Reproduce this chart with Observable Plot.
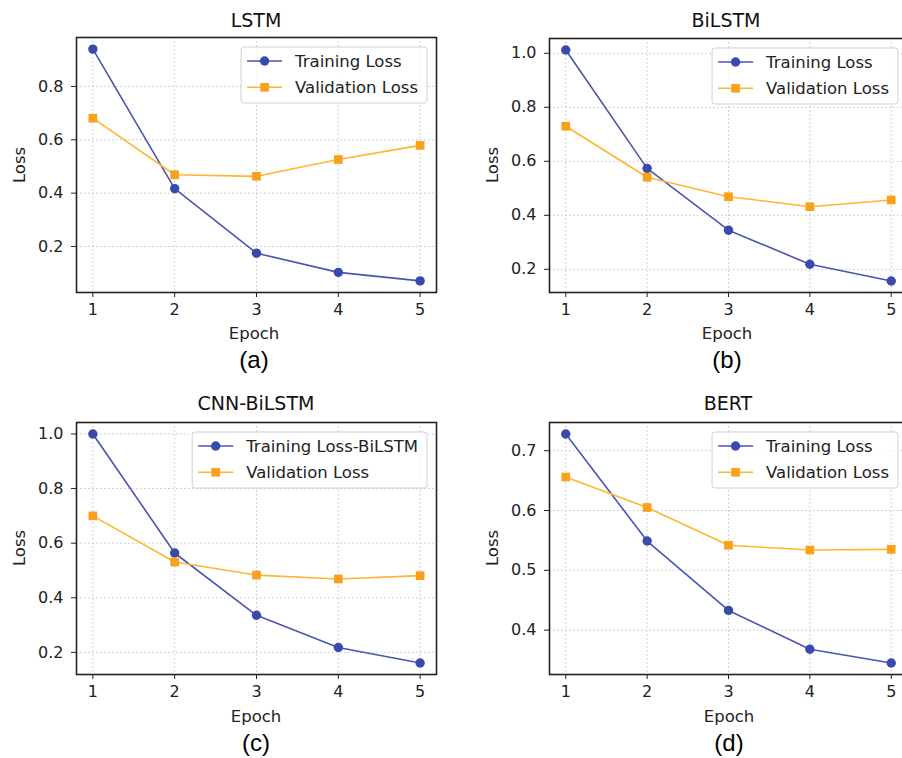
<!DOCTYPE html>
<html><head><meta charset="utf-8">
<script src="https://cdn.jsdelivr.net/npm/d3@7"></script>
<script src="https://cdn.jsdelivr.net/npm/@observablehq/plot@0.6"></script>
<style>
html,body{margin:0;padding:0;background:#fff;width:902px;height:758px;overflow:hidden;position:relative;}
.panel{position:absolute;overflow:visible;}
.panel svg{max-width:none !important;display:block;}
.lbl{position:absolute;font-family:"DejaVu Sans";white-space:nowrap;line-height:1;}
.title{font-size:19px;color:#111;transform:translate(-50%,-50%);}
.axl{font-size:16.5px;color:#222;transform:translate(-50%,-50%);}
.axly{font-size:16.5px;color:#222;transform:translate(-50%,-50%) rotate(-90deg);}
.cap{position:absolute;font-family:"Liberation Sans",Arial,sans-serif;font-size:24px;line-height:1;color:#000;transform:translate(-50%,-50%);white-space:nowrap;}
</style></head><body>
<script>
// ---- data ----
const epochs = [1, 2, 3, 4, 5];
const lstmTrain   = [0.940, 0.417, 0.175, 0.103, 0.071];
const lstmVal     = [0.681, 0.469, 0.463, 0.526, 0.579];
const bilstmTrain = [1.012, 0.574, 0.345, 0.219, 0.157];
const bilstmVal   = [0.730, 0.541, 0.469, 0.432, 0.457];
const cnnTrain    = [1.000, 0.564, 0.336, 0.218, 0.161];
const cnnVal      = [0.700, 0.531, 0.483, 0.469, 0.481];
const bertTrain   = [0.728, 0.549, 0.433, 0.368, 0.345];
const bertVal     = [0.656, 0.605, 0.542, 0.534, 0.535];
const titles   = ["LSTM", "BiLSTM", "CNN-BiLSTM", "BERT"];
const captions = ["(a)", "(b)", "(c)", "(d)"];
const trainNames = ["Training Loss", "Training Loss", "Training Loss-BiLSTM", "Training Loss"];
const valName = "Validation Loss";
const xLabel = "Epoch", yLabel = "Loss";
const yTickSets = [[0.2, 0.4, 0.6, 0.8], [0.2, 0.4, 0.6, 0.8, 1.0], [0.2, 0.4, 0.6, 0.8, 1.0], [0.4, 0.5, 0.6, 0.7]];
const trains = [lstmTrain, bilstmTrain, cnnTrain, bertTrain];
const vals = [lstmVal, bilstmVal, cnnVal, bertVal];

// ---- layout ----
const layout = [
  {fx: 76,  fy: 37,  fw: 360, fh: 255, tx: 256, ty: 20,  cx: 254, cy: 360, yx: 20,  ex: 254, ey: 334},
  {fx: 549, fy: 38,  fw: 358, fh: 254, tx: 726, ty: 20,  cx: 727, cy: 360, yx: 493, ex: 727, ey: 334},
  {fx: 76,  fy: 422, fw: 360, fh: 252, tx: 256, ty: 403, cx: 256, cy: 743, yx: 20,  ex: 256, ey: 717},
  {fx: 549, fy: 422, fw: 358, fh: 252, tx: 728, ty: 403, cx: 729, cy: 743, yx: 493, ex: 729, ey: 717}
];
const C = {trainLine: "#4855b3", trainDot: "#3a4aac", valLine: "#ffb52e", valDot: "#f9a11b", grid: "#bdbdbd", frame: "#222"};
const ml = 76, mr = 12, mt = 10, mb = 56;

function addLabel(cls, text, x, y, base) {
  const d = document.createElement("div");
  d.className = (base || "lbl") + " " + cls; d.textContent = text;
  d.style.left = x + "px"; d.style.top = y + "px";
  document.body.appendChild(d);
}

layout.forEach((L, k) => {
  const train = trains[k], val = vals[k];
  const all = train.concat(val);
  const lo = d3.min(all), hi = d3.max(all), pad = (hi - lo) * 0.05;
  const W = L.fw + ml + mr, H = L.fh + mt + mb;
  const el = Plot.plot({
    width: W, height: H,
    marginLeft: ml, marginRight: mr, marginTop: mt, marginBottom: mb,
    style: {fontFamily: "DejaVu Sans", fontSize: "16px", color: "#222", background: "transparent", overflow: "visible", maxWidth: "none"},
    x: {domain: [0.8, 5.2]},
    y: {domain: [lo - pad, hi + pad]},
    marks: [
      Plot.gridX(epochs, {stroke: C.grid, strokeOpacity: 1, strokeDasharray: "1.5,2.5", strokeWidth: 0.9}),
      Plot.gridY(yTickSets[k], {stroke: C.grid, strokeOpacity: 1, strokeDasharray: "1.5,2.5", strokeWidth: 0.9}),
      Plot.axisX(epochs, {tickSize: 5, tickPadding: 6, label: null, fontSize: 16}),
      Plot.axisY(yTickSets[k], {tickSize: 5, tickPadding: 8, tickFormat: ".1f", label: null, fontSize: 16}),
      Plot.line(epochs, {x: d => d, y: (d, i) => train[i], stroke: C.trainLine, strokeWidth: 1.6}),
      Plot.dot(epochs, {x: d => d, y: (d, i) => train[i], fill: C.trainDot, r: 4.7}),
      Plot.line(epochs, {x: d => d, y: (d, i) => val[i], stroke: C.valLine, strokeWidth: 1.6}),
      Plot.dot(epochs, {x: d => d, y: (d, i) => val[i], fill: C.valDot, symbol: "square", r: 4.9}),
      Plot.frame({stroke: C.frame, strokeWidth: 1.6})
    ]
  });
  const div = document.createElement("div");
  div.className = "panel";
  div.style.left = (L.fx - ml) + "px";
  div.style.top = (L.fy - mt) + "px";
  div.style.width = W + "px";
  div.style.height = H + "px";
  el.style.width = W + "px";
  el.style.height = H + "px";
  div.appendChild(el);
  document.body.appendChild(div);

  // legend
  const svg = d3.select(el);
  const g = svg.append("g").attr("font-family", "DejaVu Sans").attr("font-size", 16.5).attr("text-anchor", "start");
  const right = ml + L.fw - 9, top = mt + 10;
  const rows = [
    {name: trainNames[k], line: C.trainLine, dot: C.trainDot, sym: "circle"},
    {name: valName, line: C.valLine, dot: C.valDot, sym: "square"}
  ];
  const texts = rows.map((r, i) => g.append("text").attr("text-anchor", "start").attr("y", top + 14 + i * 26.3).attr("dy", "0.35em").attr("fill", "#222").text(r.name));
  const tw = d3.max(texts, t => t.node().getComputedTextLength());
  const w = 54 + tw + 9, left = right - w;
  texts.forEach(t => t.attr("x", left + 54));
  g.insert("rect", ":first-child").attr("x", left).attr("y", top).attr("width", w).attr("height", 56)
    .attr("rx", 3).attr("fill", "#fff").attr("fill-opacity", 0.8).attr("stroke", "#d0d0d0").attr("stroke-width", 1);
  rows.forEach((r, i) => {
    const cy = top + 14 + i * 26.3;
    g.append("line").attr("x1", left + 6).attr("x2", left + 41).attr("y1", cy).attr("y2", cy).attr("stroke", r.line).attr("stroke-width", 1.6);
    if (r.sym === "circle") g.append("circle").attr("cx", left + 23.5).attr("cy", cy).attr("r", 4.7).attr("fill", r.dot);
    else g.append("rect").attr("x", left + 23.5 - 4.3).attr("y", cy - 4.3).attr("width", 8.6).attr("height", 8.6).attr("fill", r.dot);
  });

  addLabel("title", titles[k], L.tx, L.ty);
  addLabel("axl", xLabel, L.ex, L.ey);
  addLabel("axly", yLabel, L.yx, L.fy + L.fh / 2);
  addLabel("", captions[k], L.cx, L.cy, "cap");
});
</script>
</body></html>
